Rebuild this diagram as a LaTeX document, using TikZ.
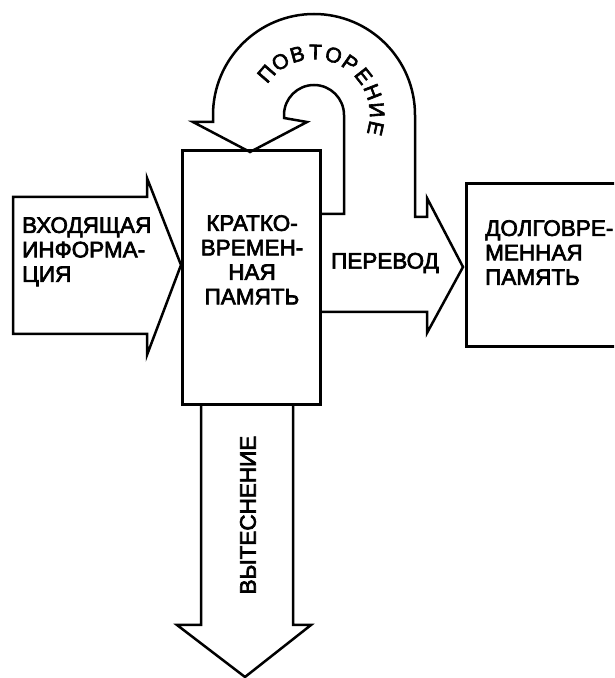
\documentclass[tikz,border=0pt]{standalone}
\usepackage{fontspec}
\setmainfont{Liberation Sans}[FakeBold=3]
\begin{document}
\begin{tikzpicture}[x=1pt,y=1pt,
  line/.style={line width=2.5pt,line join=miter,black},
  boxnode/.style={draw,line width=2.5pt,inner sep=0pt,anchor=south west},
  lbl/.style={inner sep=0pt,font=\fontsize{22.5}{24.5}\selectfont},
  arcl/.style={inner sep=0pt,font=\fontsize{21}{22}\selectfont}]
\useasboundingbox (0,0) rectangle (614,678);
\clip (0,0) rectangle (614,678);
% short-term memory box
\node[boxnode,minimum width=138pt,minimum height=254pt] (stm) at (181,272) {};
% long-term memory box
\node[boxnode,minimum width=160pt,minimum height=163pt] (ltm) at (465,330) {};
% input arrow
\draw[line] (13,481) -- (147,481) -- (147,500) -- (181,413) -- (147,323) -- (147,344) -- (13,344) -- cycle;
% transfer + rehearsal arrow
\draw[line] (319,366) -- (427,366) -- (427,345) -- (463,411) -- (427,480) -- (427,461) -- (415,461)
  -- (415,563) arc[start angle=0,end angle=180,radius=101] -- (213,556) -- (193,556)
  -- (250,526) -- (307,556) -- (284,560) -- (284,563)
  arc[start angle=180,end angle=0,radius=30] -- (344,464) -- (319,464);
% displacement arrow
\draw[line] (201,272) -- (201,53) -- (177,53) -- (245,1) -- (311,53) -- (293,53) -- (293,272);
% texts
\node[lbl,anchor=north west,align=left] (tin) at (22,461) {ВХОДЯЩАЯ\\ИНФОРМА-\\ЦИЯ};
\node[lbl,anchor=north,align=center] (tstm) at (252,463) {КРАТКО-\\ВРЕМЕН-\\НАЯ\\ПАМЯТЬ};
\node[lbl] (ttr) at (385,415) {ПЕРЕВОД};
\node[lbl,anchor=north west,align=left] (tltm) at (485,458) {ДОЛГОВРЕ-\\МЕННАЯ\\ПАМЯТЬ};
\node[lbl,rotate=90] (tdisp) at (248,163) {ВЫТЕСНЕНИЕ};
\coordinate (c) at (314,563);
\foreach \l [count=\i from 0, evaluate=\i as \a using 139-\i*16.8] in {П,О,В,Т,О,Р,Е,Н,И,Е}
  \path (c) ++(\a:63) node[arcl,rotate=\a-90] (r\i) {\l};
\end{tikzpicture}
\end{document}
